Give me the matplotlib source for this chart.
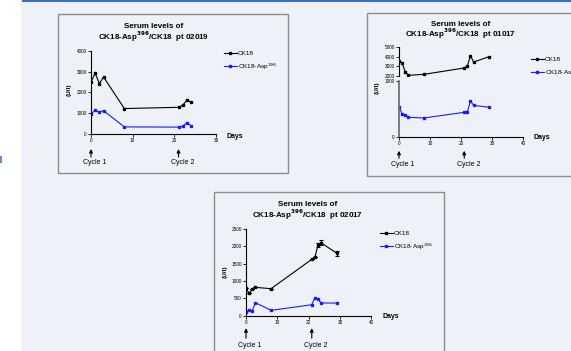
import matplotlib
matplotlib.use("Agg")
import matplotlib.pyplot as plt
from matplotlib.patches import Rectangle

plt.rcParams['font.family'] = ['Liberation Sans', 'DejaVu Sans']

W, H = 571, 351
BG = '#eef2f8'
BLUE = '#1a1aff'

# panel 1, pt 02019
days1 = [0, 1, 2, 3, 8, 21, 22, 23, 24]
ck18_1 = [2500, 2930, 2420, 2740, 1210, 1270, 1370, 1610, 1530]
asp_1 = [940, 1130, 1020, 1110, 320, 310, 350, 520, 370]

# panel 2, pt 01017 (broken y axis)
days2 = [0, 1, 2, 3, 8, 21, 22, 23, 24, 29]
ck18_2 = [3600, 3320, 2450, 2070, 2170, 2840, 3050, 4130, 3460, 4020]
asp_2 = [544, 414, 400, 355, 343, 444, 450, 645, 568, 533]

# panel 3, pt 02017
days3 = [0, 1, 2, 3, 8, 21, 22, 23, 24, 29]
ck18_3 = [788, 644, 769, 817, 779, 1625, 1680, 2050, 2100, 1800]
ck18_3_err = [0, 0, 0, 0, 0, 0, 0, 60, 70, 75]
asp_3 = [106, 173, 144, 375, 154, 317, 519, 481, 365, 365]

series_labels = ['CK18', r'CK18-Asp$^{396}$']
cycle_days = [0, 21]
cycle_labels = ['Cycle 1', 'Cycle 2']


def fx(x):
    return x / W


def fy(y):
    return 1 - y / H


def add_ax(x0, x1, ytop, ybot):
    ax = fig.add_axes([fx(x0), fy(ybot), (x1 - x0) / W, (ybot - ytop) / H])
    ax.set_facecolor('none')
    for s in ['top', 'right']:
        ax.spines[s].set_visible(False)
    for s in ['left', 'bottom']:
        ax.spines[s].set_linewidth(0.8)
    ax.tick_params(length=2, width=0.6, labelsize=3.4, pad=1)
    return ax


def cycles(ax, head, tail, txt):
    for d, lab in zip(cycle_days, cycle_labels):
        ax.annotate('', xy=(d, -head), xytext=(d, -tail),
                    xycoords=('data', 'axes pixels'),
                    textcoords=('data', 'axes pixels'),
                    arrowprops=dict(arrowstyle='-|>', color='black', lw=0.8,
                                    mutation_scale=5, shrinkA=0, shrinkB=0),
                    annotation_clip=False)
        ax.annotate(lab, xy=(d, -txt), xycoords=('data', 'axes pixels'),
                    xytext=(3, 0), textcoords='offset points',
                    ha='center', va='center', fontsize=5, annotation_clip=False)


def titles(cx, y1, y2, pt):
    fig.text(fx(cx), fy(y1), 'Serum levels of', ha='center', va='center',
             fontsize=5.8, fontweight='bold')
    fig.text(fx(cx), fy(y2), r'CK18-Asp$^{\mathbf{396}}$/CK18  pt ' + pt,
             ha='center', va='center', fontsize=5.8, fontweight='bold')


def legend(ax, handles, x0, y0):
    ax.legend(handles, series_labels, loc='upper left',
              bbox_to_anchor=(fx(x0), fy(y0)),
              bbox_transform=fig.transFigure, frameon=False, fontsize=4.6,
              borderpad=0, borderaxespad=0, handlelength=2.0,
              handletextpad=0.2, labelspacing=0.75)


fig = plt.figure(figsize=(W / 100, H / 100), dpi=100)
fig.patch.set_facecolor(BG)

# page decorations
fig.patches.append(Rectangle((0, 0), fx(21), 1, transform=fig.transFigure,
                             facecolor='white', edgecolor='none'))
fig.patches.append(Rectangle((fx(22), fy(1.5)), 1, 1.5 / H, transform=fig.transFigure,
                             facecolor='#3a6fc4', edgecolor='none'))
fig.patches.append(Rectangle((0, fy(163)), fx(2), 7 / H, transform=fig.transFigure,
                             facecolor='#5b8fd4', edgecolor='none'))
for (x0, y0, x1, y1) in [(58, 14, 288, 173), (367, 13, 580, 176), (214, 192, 444, 360)]:
    fig.patches.append(Rectangle((fx(x0), fy(y1)), (x1 - x0) / W, (y1 - y0) / H,
                                 transform=fig.transFigure, facecolor='none',
                                 edgecolor='#8c8c8c', lw=1.0))

mk = dict(marker='s', markersize=1.8, lw=0.8)

# ---- panel 1
ax1 = add_ax(91, 216, 51, 133.5)
a1, = ax1.plot(days1, ck18_1, color='black', **mk)
b1, = ax1.plot(days1, asp_1, color=BLUE, **mk)
ax1.set_xlim(0, 30)
ax1.set_ylim(0, 4000)
ax1.set_xticks([0, 10, 20, 30])
ax1.set_yticks([0, 1000, 2000, 3000, 4000])
cycles(ax1, 15.5, 23.5, 29.5)
titles(154, 26, 37, '02019')
legend(ax1, [a1, b1], 224, 51)
fig.text(fx(69), fy(90), '(U/l)', rotation=90, ha='center', va='center',
         fontsize=4.6, fontweight='bold')
fig.text(fx(235), fy(136), 'Days', ha='center', va='center', fontsize=5,
         fontweight='bold')

# ---- panel 2 (two stacked axes)
ax2b = add_ax(399, 523.3, 81, 137.3)
ax2t = add_ax(399, 523.3, 47.3, 76)
ax2t.spines['bottom'].set_visible(False)
ax2t.tick_params(axis='x', bottom=False, labelbottom=False)
a2, = ax2t.plot(days2, ck18_2, color='black', **mk)
b2, = ax2b.plot(days2, asp_2, color=BLUE, **mk)
ax2t.set_ylim(2000, 5000)
ax2t.set_yticks([2000, 3000, 4000, 5000])
ax2b.set_ylim(0, 1000)
ax2b.set_yticks([0, 1000])
ax2b.spines['left'].set_color('#666666')
ax2b.spines['left'].set_linewidth(1.2)
for a in (ax2t, ax2b):
    a.set_xlim(0, 40)
ax2b.set_xticks([0, 10, 20, 30, 40])
cycles(ax2b, 13.5, 21, 27.5)
titles(461, 24, 34, '01017')
legend(ax2b, [a2, b2], 531, 57)
fig.text(fx(377), fy(88), '(U/l)', rotation=90, ha='center', va='center',
         fontsize=4.6, fontweight='bold')
fig.text(fx(542), fy(138), 'Days', ha='center', va='center', fontsize=5,
         fontweight='bold')

# ---- panel 3
ax3 = add_ax(246, 371.3, 229, 315.7)
a3 = ax3.errorbar(days3, ck18_3, yerr=ck18_3_err, color='black',
                  capsize=1.2, elinewidth=0.8, capthick=0.8, **mk)
b3, = ax3.plot(days3, asp_3, color=BLUE, **mk)
ax3.set_xlim(0, 40)
ax3.set_ylim(0, 2500)
ax3.set_xticks([0, 10, 20, 30, 40])
ax3.set_yticks([0, 500, 1000, 1500, 2000, 2500])
cycles(ax3, 12.5, 22.5, 29.5)
titles(308, 204, 215, '02017')
legend(ax3, [a3[0], b3], 380, 231)
fig.text(fx(225), fy(272), '(U/l)', rotation=90, ha='center', va='center',
         fontsize=4.6, fontweight='bold')
fig.text(fx(391), fy(317), 'Days', ha='center', va='center', fontsize=5,
         fontweight='bold')

fig.savefig('out.png', dpi=100, facecolor=fig.get_facecolor())
